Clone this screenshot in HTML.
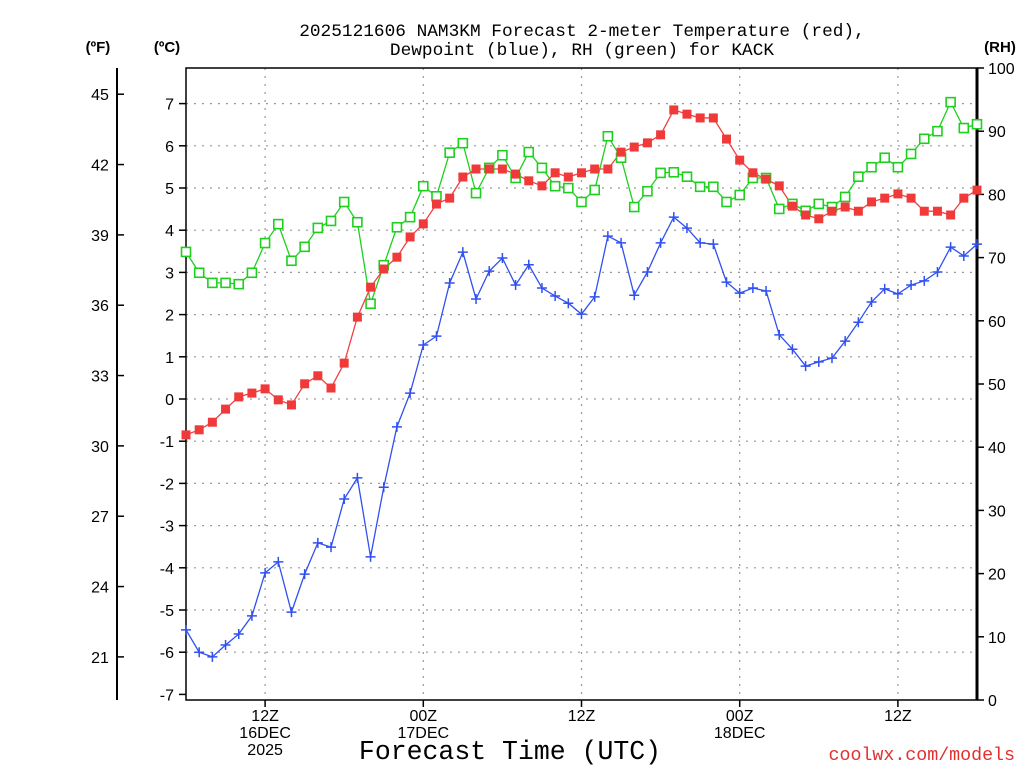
<!DOCTYPE html>
<html><head><meta charset="utf-8"><style>
body{margin:0;background:#fff;}
svg{display:block;font-family:"Liberation Sans",sans-serif;}
.mono{font-family:"Liberation Mono",monospace;}
</style></head><body>
<svg id="c" width="1024" height="768" xmlns="http://www.w3.org/2000/svg">
<text class="mono" x="582" y="36" text-anchor="middle" font-size="17.8">2025121606 NAM3KM Forecast 2-meter Temperature (red),</text>
<text class="mono" x="582" y="55" text-anchor="middle" font-size="17.8">Dewpoint (blue), RH (green) for KACK</text>
<text x="98" y="52" text-anchor="middle" font-size="15" font-weight="bold">(ºF)</text>
<text x="167" y="52" text-anchor="middle" font-size="15" font-weight="bold">(ºC)</text>
<text x="1000" y="52" text-anchor="middle" font-size="15" font-weight="bold">(RH)</text>
<text class="mono" x="510" y="759" text-anchor="middle" font-size="26.5">Forecast Time (UTC)</text>
<text class="mono" x="1015" y="760" text-anchor="end" font-size="18.3" fill="#e03030">coolwx.com/models</text>
<g id="grid"></g><g id="axes"></g><g id="series"></g>
</svg>
<script>
const hours = Array.from({length:61},(_,i)=>i);
const tempC = [-0.85,-0.73,-0.55,-0.24,0.05,0.14,0.24,-0.02,-0.14,0.36,0.55,0.26,0.85,1.94,2.65,3.08,3.36,3.84,4.15,4.62,4.76,5.26,5.45,5.45,5.45,5.33,5.17,5.05,5.36,5.26,5.36,5.45,5.45,5.85,5.97,6.07,6.26,6.85,6.75,6.66,6.66,6.16,5.66,5.36,5.21,5.05,4.57,4.36,4.27,4.45,4.55,4.45,4.67,4.76,4.86,4.76,4.45,4.45,4.36,4.76,4.95];
const dewC = [-5.47,-6.0,-6.11,-5.83,-5.57,-5.14,-4.12,-3.86,-5.05,-4.15,-3.41,-3.51,-2.37,-1.87,-3.74,-2.09,-0.66,0.14,1.28,1.49,2.75,3.48,2.37,3.03,3.34,2.70,3.18,2.63,2.44,2.27,2.01,2.42,3.86,3.70,2.46,3.01,3.70,4.31,4.05,3.70,3.67,2.77,2.51,2.63,2.56,1.52,1.18,0.78,0.88,0.97,1.37,1.82,2.30,2.61,2.49,2.70,2.80,3.01,3.60,3.39,3.67];
const rh = [70.9,67.6,66.0,66.0,65.8,67.6,72.3,75.3,69.5,71.7,74.7,75.8,78.8,75.6,62.7,68.8,74.8,76.4,81.3,79.7,86.6,88.1,80.2,84.2,86.2,82.6,86.7,84.2,81.3,81.0,78.8,80.7,89.2,85.8,78.0,80.5,83.4,83.5,82.8,81.2,81.2,78.8,79.9,82.6,82.6,77.7,78.5,77.4,78.5,78.0,79.6,82.8,84.3,85.8,84.3,86.4,88.8,90.0,94.6,90.5,91.1];
const cTicks = [-7,-6,-5,-4,-3,-2,-1,0,1,2,3,4,5,6,7];
const fTicks = [21,24,27,30,33,36,39,42,45];
const rhTicks = [0,10,20,30,40,50,60,70,80,90,100];
const xTickHours = [6,18,30,42,54];
const xTickLabels = [["12Z","16DEC","2025"],["00Z","17DEC"],["12Z"],["00Z","18DEC"],["12Z"]];

const L=186,R=977,T=68,B=700;
const x=h=>L+(R-L)*h/60;
const yC=c=>399-42.2*c;
const yF=f=>yC((f-32)*5/9);
const yR=r=>B-(B-T)*r/100;
const NS="http://www.w3.org/2000/svg";
function mk(tag,attrs,parent,text){const e=document.createElementNS(NS,tag);for(const k in attrs)e.setAttribute(k,attrs[k]);if(text!==undefined)e.textContent=text;parent.appendChild(e);return e;}
const grid=document.getElementById('grid'),axes=document.getElementById('axes'),ser=document.getElementById('series');

cTicks.forEach(c=>{
  if(c>-7){const g=mk('line',{x1:L,x2:R,y1:yC(c),y2:yC(c),stroke:'#999','stroke-dasharray':'2,6','stroke-width':1.2},grid);
  
  }
  mk('line',{x1:L-7,x2:L,y1:yC(c),y2:yC(c),stroke:'#000','stroke-width':1.5},axes);
  const t=mk('text',{x:L-12,y:yC(c)+6,'text-anchor':'end','font-size':16},axes,String(c));
  
  
});
fTicks.forEach(f=>{
  mk('line',{x1:117,x2:124,y1:yF(f),y2:yF(f),stroke:'#000','stroke-width':1.5},axes);
  const t=mk('text',{x:100,y:yF(f)+6,'text-anchor':'middle','font-size':16},axes,String(f));
  
  
});
rhTicks.forEach(r=>{
  mk('line',{x1:R,x2:R+7,y1:yR(r),y2:yR(r),stroke:'#000','stroke-width':1.5},axes);
  const t=mk('text',{x:R+11,y:yR(r)+6,'text-anchor':'start','font-size':16},axes,String(r));
  
  
});
xTickHours.forEach((h,i)=>{
  const g=mk('line',{x1:x(h),x2:x(h),y1:T,y2:B,stroke:'#999','stroke-dasharray':'2,6','stroke-width':1.2},grid);
  
  
  mk('line',{x1:x(h),x2:x(h),y1:B,y2:B+7,stroke:'#000','stroke-width':1.5},axes);
  xTickLabels[i].forEach((s,j)=>{
    const t=mk('text',{x:x(h),y:721+j*17,'text-anchor':'middle','font-size':16},axes,s);
    
    
  });
});
mk('rect',{x:L,y:T,width:R-L,height:B-T,fill:'none',stroke:'#000','stroke-width':1.5},axes);
mk('line',{x1:R,x2:R,y1:T,y2:B,stroke:'#000','stroke-width':3},axes);
mk('line',{x1:117,x2:117,y1:T,y2:B,stroke:'#000','stroke-width':2},axes);

function line(vals,yf,color,name){
  const p=mk('polyline',{points:vals.map((v,i)=>x(hours[i])+','+yf(v)).join(' '),fill:'none',stroke:color,'stroke-width':1.3},ser);
  
  
}
line(rh,yR,'#1ed01e','rh-line');
line(tempC,yC,'#f04040','temperature-line');
line(dewC,yC,'#3050f0','dewpoint-line');
rh.forEach((v,i)=>{const m=mk('rect',{x:x(hours[i])-4.5,y:yR(v)-4.5,width:9,height:9,fill:'#fff',stroke:'#1ed01e','stroke-width':1.6},ser);
  
  });
tempC.forEach((v,i)=>{const m=mk('rect',{x:x(hours[i])-4.5,y:yC(v)-4.5,width:9,height:9,fill:'#f03a3a'},ser);
  
  });
dewC.forEach((v,i)=>{const cx=x(hours[i]),cy=yC(v);
  const m=mk('path',{d:`M${cx-5},${cy}H${cx+5}M${cx},${cy-5}V${cy+5}`,stroke:'#3050f0','stroke-width':1.5},ser);
  
  });
</script>
</body></html>
